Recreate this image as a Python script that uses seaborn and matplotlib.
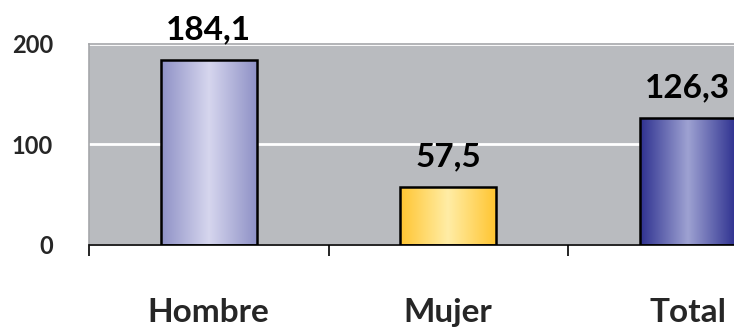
import numpy as np
import matplotlib
matplotlib.use("Agg")
import matplotlib.pyplot as plt
from matplotlib.colors import LinearSegmentedColormap
import pandas as pd
import seaborn as sns

categories = ["Hombre", "Mujer", "Total"]
values = [184.1, 57.5, 126.3]
value_labels = ["184,1", "57,5", "126,3"]
y_ticks = [0, 100, 200]

# gradient stops for each bar: edge, centre, edge
bar_gradients = [
    ["#8E91C6", "#D6D6EE", "#8E91C6"],
    ["#FFC531", "#FFEDA6", "#FFC531"],
    ["#2E3190", "#9EA2D2", "#2E3190"],
]

sns.set_theme(style="white")
plt.rcParams["font.family"] = ["Lato", "DejaVu Sans"]

df = pd.DataFrame({"cat": categories, "val": values})

fig = plt.figure(figsize=(7.34, 3.33), dpi=100)
ax = fig.add_axes([89 / 734, 88 / 333, 718.5 / 734, 201 / 333])
ax.set_facecolor("#B9BBBF")

sns.barplot(data=df, x="cat", y="val", ax=ax, width=0.4,
            color="#B9BBBF", edgecolor="black", linewidth=1.8, zorder=3)

# horizontal gradient fills clipped to each bar
for patch, stops in zip(ax.patches, bar_gradients):
    x0, y0 = patch.get_x(), patch.get_y()
    w, h = patch.get_width(), patch.get_height()
    cmap = LinearSegmentedColormap.from_list("g", stops)
    grad = np.linspace(0, 1, 256).reshape(1, -1)
    im = ax.imshow(grad, cmap=cmap, aspect="auto",
                   extent=[x0, x0 + w, y0, y0 + h], zorder=2.5,
                   interpolation="bicubic")
    im.set_clip_path(patch)
    patch.set_facecolor("none")
ax.set_xlim(-0.5, 2.5)
ax.set_ylim(0, 200)

# value labels
for i, (v, lab) in enumerate(zip(values, value_labels)):
    ax.text(i, v + 16, lab, ha="center", va="bottom", fontsize=24,
            fontweight="bold", color="black", zorder=5, clip_on=False)

ax.set_yticks(y_ticks)
ax.set_yticklabels([str(t) for t in y_ticks], fontsize=17, fontweight="bold")
ax.yaxis.grid(True, color="white", linewidth=2, zorder=1)
ax.set_axisbelow(True)
ax.tick_params(axis="y", length=0, pad=26)

ax.set_xticks(range(len(categories)))
ax.set_xticklabels(categories, fontsize=24, fontweight="bold")
ax.tick_params(axis="x", which="major", length=0, pad=38)
ax.set_xticks([-0.5, 0.5, 1.5, 2.5], minor=True)
ax.tick_params(axis="x", which="minor", length=8, width=1.2,
               color="black", direction="out", bottom=True)
ax.set_xlabel("")
ax.set_ylabel("")

for side in ["left", "right", "top"]:
    ax.spines[side].set_color("#A5A7AA")
    ax.spines[side].set_linewidth(1.2)
ax.spines["bottom"].set_color("black")
ax.spines["bottom"].set_linewidth(1.2)
ax.spines["bottom"].set_zorder(4)

fig.savefig("out.png", dpi=100, facecolor="white")
